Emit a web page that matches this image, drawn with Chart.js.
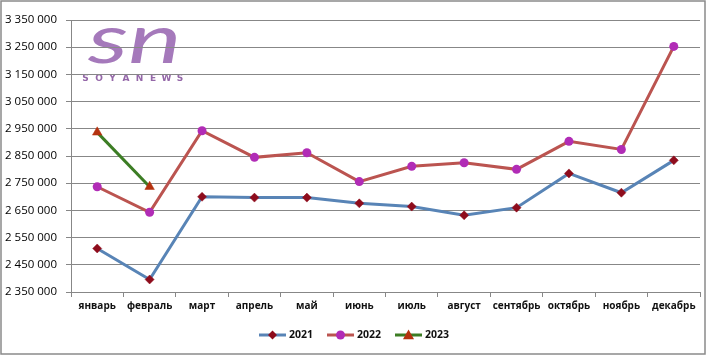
<!DOCTYPE html>
<html>
<head>
<meta charset="utf-8">
<script src="https://cdn.jsdelivr.net/npm/chart.js@4.4.1/dist/chart.umd.min.js"></script>
<style>
html,body{margin:0;padding:0;background:#fff;}
#wrap{width:706px;height:356px;position:relative;}
</style>
</head>
<body>
<div id="wrap"><canvas id="c" width="706" height="356"></canvas></div>
<script>
const categories = ['январь','февраль','март','апрель','май','июнь','июль','август','сентябрь','октябрь','ноябрь','декабрь'];
const seriesNames = ['2021','2022','2023'];
const values2021 = [2510000, 2396000, 2700000, 2697000, 2697000, 2676000, 2664000, 2632000, 2660000, 2786000, 2715000, 2834000];
const values2022 = [2737000, 2643000, 2943000, 2845000, 2862000, 2756000, 2812000, 2825000, 2801000, 2904000, 2874000, 3253000];
const values2023 = [2937000, 2737000, null, null, null, null, null, null, null, null, null, null];
const yMin = 2350000, yMax = 3350000, yStep = 100000;
const logoText = 'sn';
const logoSub = 'SOYANEWS';

const FONT = "'Open Sans', 'Noto Sans', sans-serif";
const GRID = '#878787';

function fmt(v){ return String(v).replace(/\B(?=(\d{3})+(?!\d))/g, ' '); }

const bgPlugin = {
  id: 'bg',
  beforeDraw(chart){
    const ctx = chart.ctx;
    ctx.save();
    ctx.fillStyle = '#fff';
    ctx.fillRect(0,0,chart.width,chart.height);
    // logo
    ctx.fillStyle = '#a579bb';
    ctx.font = "italic 400 68px Lato, 'DejaVu Sans', sans-serif";
    ctx.textBaseline = 'alphabetic';
    ctx.translate(88, 63);
    ctx.scale(1.48, 1);
    ctx.fillText(logoText, 0, 0);
    ctx.restore();
    ctx.save();
    ctx.fillStyle = '#9467a8';
    ctx.font = "bold 9px 'DejaVu Sans', sans-serif";
    ctx.textAlign = 'center';
    ctx.textBaseline = 'middle';
    for (let i=0;i<logoSub.length;i++){
      ctx.fillText(logoSub[i], 85.5 + i*13.5, 78.5);
    }
    ctx.restore();
  },
  afterDraw(chart){
    const ctx = chart.ctx;
    ctx.save();
    // outer border
    ctx.strokeStyle = '#8a8a8a';
    ctx.lineWidth = 1.5;
    ctx.strokeRect(1, 1, 704, 353);
    // legend
    ctx.font = "bold 10.5px " + FONT;
    ctx.textBaseline = 'middle';
    const lineLen = 27, gapText = 3, gapItem = 14, y = 335;
    const widths = chart.data.datasets.map(d => lineLen + gapText + ctx.measureText(d.label).width);
    const total = widths.reduce((a,b)=>a+b,0) + gapItem*(widths.length-1);
    let x = 354 - total/2;
    chart.data.datasets.forEach((d,i) => {
      ctx.strokeStyle = d.borderColor;
      ctx.lineWidth = 3;
      ctx.beginPath(); ctx.moveTo(x, y); ctx.lineTo(x+lineLen, y); ctx.stroke();
      const cx = x + lineLen/2;
      ctx.fillStyle = d.pointBackgroundColor;
      ctx.beginPath();
      if (d.pointStyle === 'rectRot') {
        const r = 4.5;
        ctx.moveTo(cx, y-r); ctx.lineTo(cx+r, y); ctx.lineTo(cx, y+r); ctx.lineTo(cx-r, y); ctx.closePath();
      } else if (d.pointStyle === 'triangle') {
        const r = 5.5;
        ctx.moveTo(cx, y-r); ctx.lineTo(cx+r, y+r*0.75); ctx.lineTo(cx-r, y+r*0.75); ctx.closePath();
      } else {
        ctx.arc(cx, y, 4.5, 0, Math.PI*2);
      }
      ctx.fill();
      ctx.fillStyle = '#111';
      ctx.textAlign = 'left';
      ctx.fillText(d.label, x + lineLen + gapText, y+0.5);
      x += widths[i] + gapItem;
    });
    ctx.restore();
  }
};

new Chart(document.getElementById('c'), {
  type: 'line',
  data: {
    labels: categories,
    datasets: [
      { label: seriesNames[0], data: values2021, borderColor: '#5884b6', borderWidth: 3,
        pointStyle: 'rectRot', pointRadius: 4.5, pointBackgroundColor: '#8e0c1c', pointBorderColor: '#8e0c1c', pointBorderWidth: 0.5, tension: 0 },
      { label: seriesNames[1], data: values2022, borderColor: '#bb5450', borderWidth: 3,
        pointStyle: 'circle', pointRadius: 4.5, pointBackgroundColor: '#b12cb6', pointBorderColor: '#b12cb6', pointBorderWidth: 0, tension: 0 },
      { label: seriesNames[2], data: values2023, borderColor: '#3c7d24', borderWidth: 3,
        pointStyle: 'triangle', pointRadius: 5.5, pointBackgroundColor: '#b5320f', pointBorderColor: '#b5320f', pointBorderWidth: 0.5, tension: 0, spanGaps: false }
    ]
  },
  options: {
    responsive: false,
    animation: false,
    devicePixelRatio: 1,
    layout: { padding: { left: 0, top: 20, right: 2, bottom: 34 } },
    plugins: { legend: { display: false }, tooltip: { enabled: false } },
    scales: {
      x: {
        offset: true,
        grid: { offset: true, drawOnChartArea: false, drawTicks: true, tickLength: 5, color: GRID, tickColor: GRID },
        border: { display: true, color: GRID, width: 1 },
        ticks: { padding: 3, color: '#111', font: { family: FONT, size: 10, weight: 'bold' }, maxRotation: 0, autoSkip: false },
        afterFit(s){ s.height = 30; }
      },
      y: {
        min: yMin, max: yMax,
        grid: { color: GRID, lineWidth: 1, drawTicks: true, tickLength: 5, tickColor: GRID },
        border: { display: true, color: GRID, width: 1 },
        ticks: { stepSize: yStep, padding: 9, color: '#000', font: { family: FONT, size: 11.5, weight: '500' }, callback: v => fmt(v) },
        afterFit(s){ s.width = 71; }
      }
    }
  },
  plugins: [bgPlugin]
});
</script>
</body>
</html>
